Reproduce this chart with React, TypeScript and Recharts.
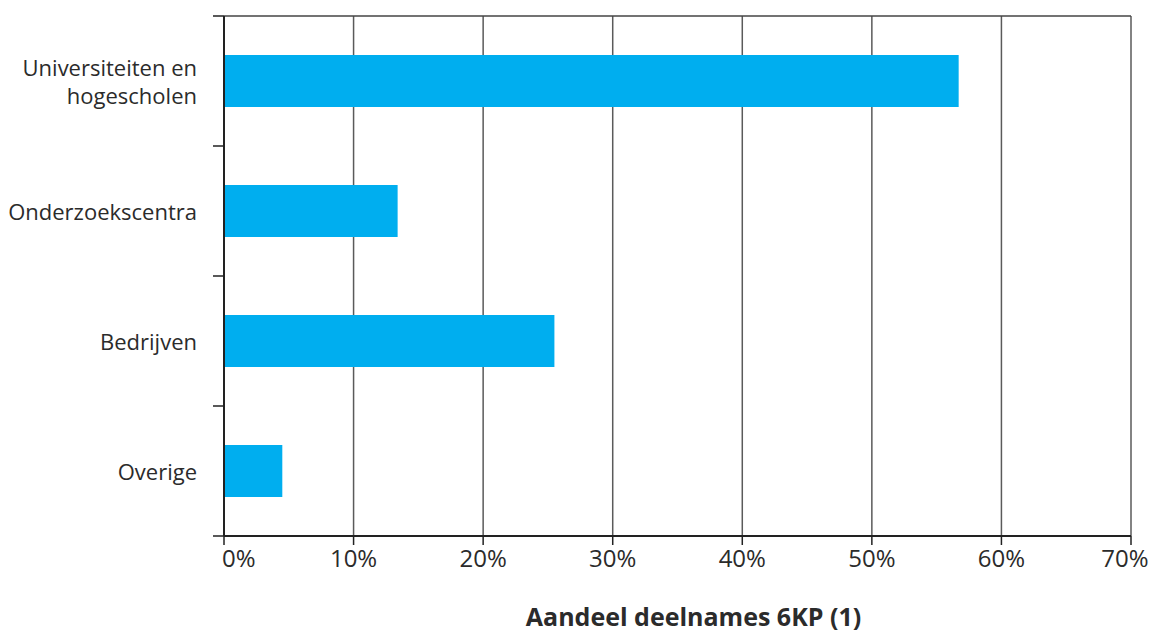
import React from "react"
import { BarChart, Bar, XAxis, YAxis, CartesianGrid } from "recharts"

const categories = ["Universiteiten en\nhogescholen", "Onderzoekscentra", "Bedrijven", "Overige"]
const shares = [56.7, 13.4, 25.5, 4.5]
const xTicks = [0, 10, 20, 30, 40, 50, 60, 70]
const axisTitle = "Aandeel deelnames 6KP (1)"

const data = categories.map((name, i) => ({ name, share: shares[i] }))

const FONT = "'Open Sans', sans-serif"
const TEXT = "#2b2b2b"
const CAT_MARGIN = 27
const EDGE_TICK = 11

// category labels, plus the small tick marks on the band edges
function CategoryTick({ x, y, payload, index }: any) {
  const lines = String(payload.value).split("\n")
  const lh = 28
  const start = y - ((lines.length - 1) * lh) / 2
  const half = payload.offset ?? 0
  const ax = x + CAT_MARGIN
  const edges = [y - half]
  if (index === categories.length - 1) edges.push(y + half)
  return (
    <g>
      {half > 0 &&
        edges.map((ey, i) => (
          <line key={i} x1={ax} x2={ax - EDGE_TICK} y1={ey} y2={ey} stroke="#222" strokeWidth={1.5} />
        ))}
      <text x={x} y={start} textAnchor="end" fill={TEXT} fontSize={22} fontFamily={FONT} dominantBaseline="central">
        {lines.map((l, i) => (
          <tspan key={i} x={x} y={start + i * lh}>
            {l}
          </tspan>
        ))}
      </text>
    </g>
  )
}

function PercentTick({ x, y, payload }: any) {
  const v = payload.value
  const first = v === 0
  const last = v === xTicks[xTicks.length - 1]
  return (
    <text
      x={first ? x - 2 : last ? x - 6 : x}
      y={y}
      dy="0.71em"
      textAnchor={first ? "start" : "middle"}
      fill={TEXT}
      fontSize={24}
      fontFamily={FONT}
    >
      {`${v}%`}
    </text>
  )
}

export default function App() {
  return (
    <div style={{ position: "absolute", left: 0, top: 0, background: "#fff" }}>
      <BarChart
        width={1152}
        height={633}
        data={data}
        layout="vertical"
        margin={{ top: 15, right: 21, bottom: 0, left: 0 }}
        barCategoryGap="30%"
      >
        <CartesianGrid horizontal={false} stroke="#5a5a5a" strokeWidth={1.5} />
        <XAxis
          type="number"
          domain={[0, 70]}
          ticks={xTicks}
          interval={0}
          height={97}
          tickSize={9}
          tickMargin={5}
          tick={<PercentTick />}
          axisLine={{ stroke: "#222", strokeWidth: 2 }}
          tickLine={{ stroke: "#222", strokeWidth: 1.5 }}
          label={{
            value: axisTitle,
            position: "insideBottom",
            offset: 7,
            dx: 16,
            fill: TEXT,
            fontSize: 25,
            fontWeight: 700,
            fontFamily: FONT,
          }}
        />
        <XAxis
          xAxisId="top"
          orientation="top"
          type="number"
          domain={[0, 70]}
          height={1}
          tick={false}
          tickLine={false}
          axisLine={{ stroke: "#444", strokeWidth: 1.5 }}
        />
        <YAxis
          type="category"
          dataKey="name"
          width={224}
          tickSize={0}
          tickMargin={CAT_MARGIN}
          tickLine={false}
          tick={<CategoryTick />}
          axisLine={{ stroke: "#222", strokeWidth: 2 }}
        />
        <Bar dataKey="share" fill="#00aeef" isAnimationActive={false} />
      </BarChart>
    </div>
  )
}
